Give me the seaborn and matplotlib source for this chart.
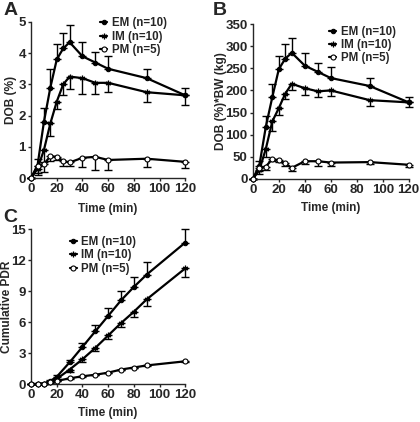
import matplotlib
matplotlib.use("Agg")
import matplotlib.pyplot as plt
import seaborn as sns

sns.set_style("ticks")
plt.rcParams['font.family'] = ['Liberation Sans', 'DejaVu Sans']
plt.rcParams['font.weight'] = 'bold'

time_ab = [0, 5, 10, 15, 20, 25, 30, 40, 50, 60, 90, 120]
time_c = [0, 5, 10, 15, 20, 30, 40, 50, 60, 70, 80, 90, 120]
groups = ["EM (n=10)", "IM (n=10)", "PM (n=5)"]

# panel A: DOB (%)
dob_em = [0, 0.4, 1.8, 2.9, 3.8, 4.15, 4.35, 3.9, 3.7, 3.5, 3.2, 2.65]
dob_em_err = [0, 0.2, 0.45, 0.6, 0.5, 0.5, 0.55, 0.45, 0.35, 0.4, 0.3, 0.25]
dob_im = [0, 0.3, 0.9, 1.75, 2.45, 3.0, 3.25, 3.2, 3.05, 3.05, 2.75, 2.65]
dob_im_err = [0, 0.2, 0.4, 0.4, 0.25, 0.35, 0.4, 0.5, 0.35, 0.3, 0.3, 0.3]
dob_pm = [0, 0.4, 0.45, 0.7, 0.68, 0.55, 0.5, 0.65, 0.68, 0.58, 0.62, 0.52]
dob_pm_err = [0, 0.25, 0.25, 0.15, 0.1, 0.15, 0.1, 0.3, 0.43, 0.33, 0.25, 0.2]

# panel B: DOB (%)*BW (kg)
bw_em = [0, 30, 118, 185, 248, 272, 285, 256, 242, 228, 210, 173]
bw_em_err = [0, 10, 24, 30, 29, 33, 33, 29, 21, 25, 17, 13]
bw_im = [0, 20, 68, 130, 160, 193, 215, 205, 198, 200, 178, 173]
bw_im_err = [0, 8, 18, 22, 15, 13, 15, 15, 12, 12, 13, 11]
bw_pm = [0, 25, 28, 45, 42, 35, 25, 40, 40, 37, 38, 32]
bw_pm_err = [0, 7, 8, 4, 4, 5, 7, 7, 10, 7, 5, 6]

# panel C: cumulative PDR
pdr_em = [0, 0, 0.05, 0.3, 0.7, 2.1, 3.6, 5.1, 6.6, 8.1, 9.4, 10.6, 13.7]
pdr_em_err = [0, 0, 0.05, 0.1, 0.15, 0.25, 0.35, 0.6, 0.8, 0.9, 1.0, 1.2, 1.3]
pdr_im = [0, 0, 0.03, 0.2, 0.5, 1.4, 2.4, 3.5, 4.7, 5.9, 7.0, 8.2, 11.2]
pdr_im_err = [0, 0, 0.03, 0.1, 0.15, 0.25, 0.3, 0.3, 0.3, 0.4, 0.5, 0.6, 0.8]
pdr_pm = [0, 0, 0.05, 0.15, 0.3, 0.55, 0.75, 0.9, 1.1, 1.4, 1.6, 1.8, 2.2]
pdr_pm_err = [0, 0, 0.02, 0.03, 0.05, 0.05, 0.05, 0.05, 0.05, 0.05, 0.05, 0.05, 0.1]

markers = {
    "EM (n=10)": dict(marker="o", mfc="black", mec="black", ms=3.2),
    "IM (n=10)": dict(marker=(6, 2, 0), mfc="black", mec="black", ms=4, mew=0.9),
    "PM (n=5)": dict(marker="o", mfc="white", mec="black", ms=3.6, mew=0.8),
}
direction = {"EM (n=10)": "up", "IM (n=10)": "down", "PM (n=5)": "down"}

fig = plt.figure(figsize=(4.2, 4.22), dpi=100)
axA = fig.add_axes([0.074, 0.578, 0.367, 0.370])
axB = fig.add_axes([0.602, 0.576, 0.371, 0.367])
axC = fig.add_axes([0.074, 0.090, 0.367, 0.367])


def draw_panel(ax, t, series, ylim, yticks, ylabel, leg_pos, xlab_y, ylab_x):
    for name, (vals, err) in zip(groups, series):
        lower = [e if direction[name] == "down" else 0 for e in err]
        upper = [e if direction[name] == "up" else 0 for e in err]
        ax.errorbar(t, vals, yerr=[lower, upper], fmt="none", ecolor="black",
                    elinewidth=1, capsize=3, capthick=1, clip_on=False, zorder=2)
        sns.lineplot(x=t, y=vals, ax=ax, color="black", lw=1.6, label=name,
                     clip_on=False, zorder=3, **markers[name])
    ax.set_xlim(0, 120)
    ax.set_ylim(*ylim)
    ax.set_xticks([0, 20, 40, 60, 80, 100, 120])
    ax.set_yticks(yticks)
    ax.set_xlabel("Time (min)", fontsize=8.5, fontweight="bold", va="center")
    ax.set_ylabel(ylabel, fontsize=8.6, fontweight="bold", va="center")
    ax.xaxis.set_label_coords(0.5, xlab_y)
    ax.yaxis.set_label_coords(ylab_x, 0.5)
    ax.tick_params(labelsize=9.5, width=1, length=2.5, pad=1.2)
    for lab in ax.get_xticklabels() + ax.get_yticklabels():
        lab.set_fontweight("bold")
    for sp in ["left", "bottom"]:
        ax.spines[sp].set_linewidth(1)
    sns.despine(ax=ax)
    ax.legend(loc="upper left", bbox_to_anchor=leg_pos, frameon=False,
              fontsize=8.3, handlelength=0.6, handletextpad=0.4,
              labelspacing=0.12, borderaxespad=0, borderpad=0)


draw_panel(axA, time_ab,
           [(dob_em, dob_em_err), (dob_im, dob_im_err), (dob_pm, dob_pm_err)],
           (0, 5), [0, 1, 2, 3, 4, 5], "DOB (%)", (0.45, 1.03), -0.2, -0.128)
draw_panel(axB, time_ab,
           [(bw_em, bw_em_err), (bw_im, bw_im_err), (bw_pm, bw_pm_err)],
           (0, 350), [0, 50, 100, 150, 200, 250, 300, 350], "DOB (%)*BW (kg)",
           (0.49, 0.99), -0.19, -0.205)
draw_panel(axC, time_c,
           [(pdr_em, pdr_em_err), (pdr_im, pdr_im_err), (pdr_pm, pdr_pm_err)],
           (0, 15), [0, 3, 6, 9, 12, 15], "Cumulative PDR", (0.25, 0.955),
           -0.187, -0.158)

for letter, x, y in [("A", 0.008, 0.995), ("B", 0.507, 0.995), ("C", 0.008, 0.505)]:
    fig.text(x, y, letter, fontsize=14, fontweight="bold", va="top", ha="left")

fig.savefig("out.png", dpi=100)
